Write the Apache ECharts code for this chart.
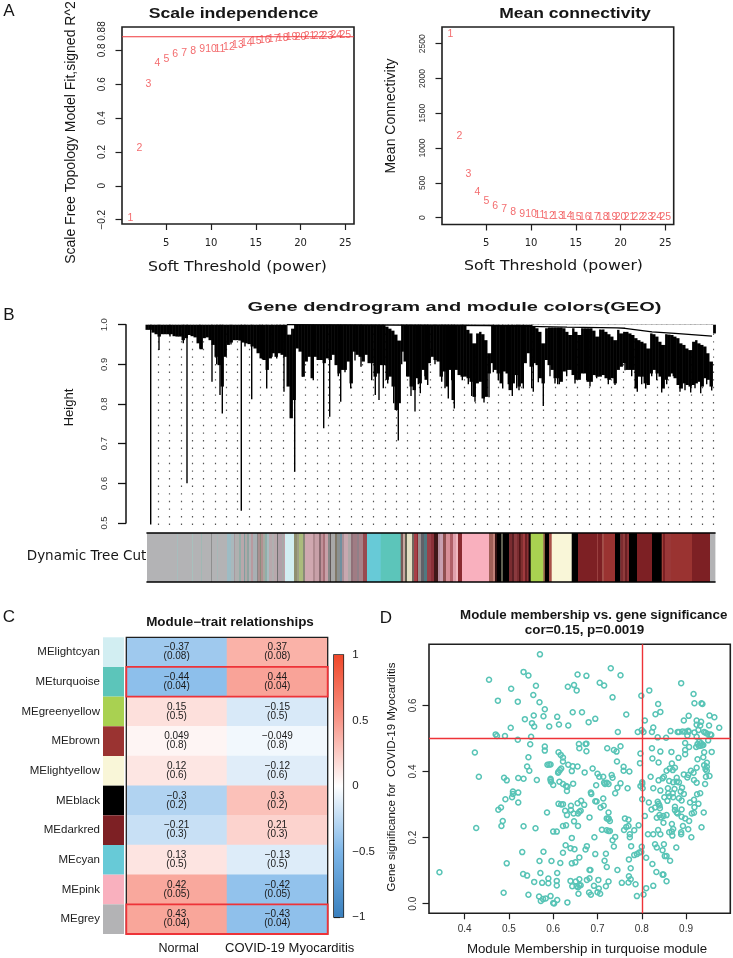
<!DOCTYPE html>
<html style="height: 100%">
<head>
<meta charset="utf-8">
<script type="text/javascript" src="https://cdn.jsdelivr.net/npm/echarts@6/dist/echarts.min.js"></script>
<script type="text/javascript">
// panel A
var powers = [1,2,3,4,5,6,7,8,9,10,11,12,13,14,15,16,17,18,19,20,21,22,23,24,25];
var scaleFit = [-0.188,0.225,0.6,0.723,0.749,0.78,0.784,0.798,0.808,0.806,0.806,0.82,0.831,0.845,0.853,0.863,0.869,0.874,0.879,0.88,0.884,0.884,0.886,0.89,0.89];
var meanConn = [2635,1169,623,374,244,163,120,86,57,48,34,26,22,19,15,14,13,12,11,10,9,8,7,6,5];
var fitCut = 0.88;
var powerTicks = [5,10,15,20,25];
var fitTicks = [-0.2,0,0.2,0.4,0.6,0.8];
var connTicks = [0,500,1000,1500,2000,2500];

// panel B: tree silhouette, one low value every 3 positions from 0
var dendroLow = [
0.987,0.987,0.98,0.976,0.97,0.976,0.976,0.976,0.976,0.971,
0.97,0.97,0.961,0.966,0.974,0.971,0.968,0.953,0.938,0.966,
0.968,0.961,0.949,0.919,0.898,0.844,0.919,0.949,0.955,0.961,
0.961,0.96,0.955,0.953,0.951,0.945,0.94,0.928,0.915,0.911,
0.886,0.915,0.928,0.919,0.928,0.924,0.919,0.844,0.764,0.81,
0.94,0.932,0.869,0.907,0.919,0.865,0.919,0.911,0.911,0.903,
0.915,0.911,0.924,
0.898,0.877,0.886,0.886,0.907,0.852,0.932,0.924,0.919,0.907,
0.924,0.903,0.903,0.869,0.877,0.898,0.898,0.861,0.869,0.844,
0.785,0.802,0.932,0.907,0.869,0.844,0.835,0.865,0.852,0.886,
0.861,0.903,0.919,0.911,0.907,0.869,0.882,0.844,0.886,0.81,
0.886,0.873,0.869,0.869,0.865,0.856,0.818,0.852,0.856,0.814,
0.818,0.877,0.903,0.886,0.877,0.852,0.882,0.877,0.835,0.852,
0.873,0.844,0.852,0.903,
0.928,0.894,0.903,0.898,0.865,0.852,0.911,0.898,0.886,0.865,
0.865,0.856,0.882,0.886,0.886,0.873,0.861,0.861,0.877,0.877,
0.856,0.856,0.873,0.869,0.869,0.873,0.865,0.861,0.865,0.852,
0.886,0.894,0.903,0.886,0.886,0.886,0.839,0.869,0.869,0.852,
0.848,0.877,0.886,0.877,0.869,0.839,0.861,0.869,0.877,0.865,
0.848,0.839,0.852,0.848,0.844,0.848,0.852,0.856,0.844,0.865,
0.861,0.844,0.978];
// long single branches
var spikePos = [3.7,12,23,36.3,40,53,65,69.7,73,75.3,84,94.3,98,104.7,113,115.3,119.7,125,129.7,133,137,147.7,155.7,166.3,176.7,182.7,
191.3,193.7,198,203.7,208,214,224.7,228.3,232,236.3,240.7,246.7,251.3,254.7,259.7,264,268,271.3,273.3,278,280.7,288,294.7,298,301.3,304.7,307.3,315.3,321.3,324.7,328,337,342,346.3,351.3,355.7,361.3,365.3,369.7,372,376.3,
384.7,386.3,391.3,396.3,403,408,410.7,412.3,419.7,428,433,439.7,443,449.7,461.3,468,478,484.7,490.3,494.7,498.7,504.7,509.7,514.7,519.7,526.3,533,538,543.7,548,553.7,559.7,564.7];
var spikeLow = [0.496,0.936,0.97,0.953,0.6,0.94,0.856,0.9,0.823,0.776,0.95,0.531,0.945,0.812,0.93,0.913,0.839,0.919,0.915,0.93,0.831,0.629,0.869,0.86,0.739,0.768,
0.87,0.806,0.88,0.839,0.91,0.894,0.86,0.823,0.81,0.84,0.852,0.802,0.708,0.9,0.87,0.82,0.781,0.85,0.827,0.87,0.848,0.9,0.856,0.84,0.814,0.86,0.789,0.86,0.85,0.82,0.806,0.804,0.817,0.88,0.86,0.839,0.85,0.82,0.84,0.835,0.839,
0.84,0.831,0.855,0.795,0.87,0.852,0.85,0.85,0.87,0.852,0.87,0.86,0.844,0.865,0.85,0.848,0.885,0.87,0.831,0.85,0.839,0.87,0.86,0.829,0.85,0.87,0.831,0.835,0.829,0.84,0.827,0.85,0.834];
// white wedges under the top branches
var gapPos = [142,145,240,243,246,249,252,321,324,327,330,333,336,339,342,387,390,393,396,399,402,405,408,411,414,417,420,423,426,429,432,435,438,441,444,447,450,453,456,459,462,465,468,471,474,477,480,483,486,489,492,495,498,501,504,507,510,513,516,519,522,525,528,531,534,537,540,543,546,549,552,555,558,561,564];
var gapTop = [0.975,0.99,0.995,0.99,0.985,0.975,0.96,0.987,0.978,0.953,0.978,0.982,0.976,0.961,0.928,0.995,0.991,0.982,0.953,0.991,0.993,0.993,0.993,0.993,0.993,0.991,0.982,0.974,0.991,0.982,0.974,0.991,0.991,0.991,0.991,0.985,0.97,0.988,0.988,0.982,0.976,0.97,0.961,0.987,0.978,0.982,0.982,0.978,0.974,0.966,0.961,0.957,0.953,0.94,0.978,0.976,0.97,0.957,0.949,0.976,0.975,0.974,0.97,0.966,0.953,0.949,0.94,0.936,0.957,0.961,0.953,0.949,0.945,0.928,0.907];
var linkPos = [140,340,380,420,470,478,505,528,565];
var linkTop = [1,0.998,0.996,0.994,0.992,0.991,0.982,0.978,0.971];

// module colour strip
var G = '#B3B3B5';
var stripEnds = [
30,31,45,46,54,55,64,65,70,71,
80,84,87,88,92,94,97,98,100,102,
104,106,110,111,113,114,116,118,120,122,
125,127,130,131,135,137,138,147,150,152,
156,158,163,166,168,172,174,176,178,181,
183,184,188,190,193,195,197,201,204,206,
210,212,216,220,233.7,253.7,256,258,260,265,
267,270,271,274,277,280,284,287,291,293,
296,299,303,306,309,311,315,342,346,348,
350,354,356,362,365,367,370,372,373.6,376,
378,380,381.6,383.7,396.3,398,402,404.7,424.7,431,
450,451,455,456.3,468,473.3,476,478,480,482,
490,505,514.7,516,518,524,545,563,568];
var stripColors = [
G,'#A8BCBC',G,'#A8C0BC',G,'#A0B8B4',G,'#8F8F8F',G,'#A8B8B8',
G,'#9DBCC4','#A9B8BC','#A89AA0','#B0B0B0','#94AEA8','#B8A8AC','#7F9FA0','#B0A8A8','#8FA4A0',
'#B0B0B4','#B89AA0','#A8B0B4','#888888','#A89090','#8C8C7C','#B09090','#A8A8A0','#8FAFA8','#A8BCC0',
'#B8A8AC','#B0B0B0','#B8A8AC','#707070','#B0A0A8','#A8A8A8','#C0A0A8','#D2EEF2','#8F8F70','#9E9E86',
'#ABBB7C','#8A8A78','#CFA8B0','#D0A8B0','#B08A90','#C8A0A8','#8A6A70','#C09098','#A87078','#C8A0A8',
'#888888','#605858','#A8A8A8','#807868','#8A9090','#7090A0','#A89098','#C8A8B0','#B0A8A8','#907078',
'#A07C84','#908088','#A88088','#984A50','#67CAD7','#5CC5BA','#7A5A58','#C8A8A0','#606050','#E4E0C4',
'#706860','#A84048','#8A2A30','#989090','#606068','#507880','#9A4048','#8A3038','#401818','#B890A0',
'#C8A0B0','#905050','#D89098','#B06068','#E0A0AC','#F0B8C0','#8A2A30','#F9B0BE','#A06058','#C08078',
'#301010','#000000','#606050','#000000','#7A2C30','#5A2024','#8A3A3E','#7A2C30','#501416','#803030',
'#A03A3E','#6A2024','#8A3034','#100808','#A9D151','#8A5A40','#000000','#A85048','#F9F6D8','#000000',
'#7D2024','#9A4040','#7D2024','#A05048','#9A3331','#000000','#7D2C30','#903C3C','#6A2024','#8A3034',
'#000000','#7D2024','#000000','#A04038','#7D2024','#9A3838','#9A3331','#7D2024','#B3B3B5'];

// panel C
var moduleNames = ['MElightcyan','MEturquoise','MEgreenyellow','MEbrown','MElightyellow','MEblack','MEdarkred','MEcyan','MEpink','MEgrey'];
var moduleColors = ['#D2EEF2','#5CC5BA','#A9D151','#9A3331','#F9F6D8','#000000','#7D2024','#67CAD7','#F9B0BE','#B3B3B5'];
var traits = ['Normal','COVID-19 Myocarditis'];
var corNormal = [-0.37,-0.44,0.15,0.049,0.12,-0.3,-0.21,0.13,0.42,0.43];
var corCovid = [0.37,0.44,-0.15,-0.049,-0.12,0.3,0.21,-0.13,-0.42,-0.43];
var pValues = ['0.08','0.04','0.5','0.8','0.6','0.2','0.3','0.5','0.05','0.04'];
var boxedRows = [1,9];
var heatColors = ['#3A80BE','#7DB6E8','#FFFFFF','#F8978A','#F0482A'];

// panel D
var membership = [
[0.343,0.095],[0.432,0.384],[0.423,0.457],[0.426,0.229],[0.455,0.677],[0.475,0.614],[0.47,0.512],[0.473,0.507],[0.491,0.507],[0.505,0.65],
[0.504,0.532],[0.52,0.611],[0.52,0.496],[0.533,0.701],[0.544,0.69],[0.555,0.631],[0.561,0.659],[0.569,0.609],[0.57,0.754],[0.581,0.588],
[0.578,0.567],[0.556,0.569],[0.536,0.558],[0.552,0.546],[0.557,0.536],[0.591,0.536],[0.55,0.505],[0.548,0.482],[0.581,0.475],[0.581,0.463],
[0.544,0.443],[0.541,0.415],[0.546,0.402],[0.521,0.38],[0.533,0.378],[0.489,0.381],[0.495,0.373],[0.563,0.374],[0.509,0.339],[0.509,0.332],
[0.507,0.322],[0.521,0.336],[0.492,0.316],[0.521,0.306],[0.482,0.291],[0.476,0.284],[0.486,0.25],[0.483,0.235],[0.533,0.234],[0.56,0.228],
[0.586,0.276],[0.6,0.218],[0.608,0.218],[0.53,0.156],[0.495,0.122],[0.532,0.09],[0.541,0.085],[0.488,0.033],[0.544,0.027],[0.557,0.066],
[0.571,0.093],[0.569,0.129],[0.578,0.157],[0.596,0.129],[0.575,0.063],[0.589,0.076],[0.589,0.062],[0.609,0.093],[0.608,0.069],[0.608,0.055],
[0.568,0.022],[0.572,0.008],[0.577,0.014],[0.583,0.016],[0.594,0.023],[0.609,0.011],[0.6,0.002],[0.602,0.001],[0.632,0.004],[0.616,0.123],
[0.622,0.154],[0.628,0.177],[0.639,0.168],[0.648,0.165],[0.642,0.199],[0.642,0.122],[0.65,0.125],[0.659,0.14],[0.639,0.069],[0.643,0.053],
[0.651,0.067],[0.653,0.053],[0.656,0.05],[0.659,0.056],[0.659,0.074],[0.662,0.056],[0.657,0.03],[0.676,0.072],[0.682,0.077],[0.682,0.102],
[0.684,0.102],[0.673,0.164],[0.676,0.174],[0.692,0.054],[0.702,0.072],[0.703,0.046],[0.7,0.035],[0.706,0.03],[0.681,0.034],[0.685,0.027],
[0.695,0.15],[0.693,0.201],[0.71,0.224],[0.716,0.13],[0.721,0.111],[0.719,0.151],[0.719,0.053],[0.725,0.067],[0.745,0.102],[0.755,0.063],
[0.77,0.064],[0.771,0.083],[0.775,0.074],[0.786,0.059],[0.789,0.023],[0.804,0.028],[0.81,0.047],[0.826,0.054],[0.833,0.096],[0.847,0.088],
[0.849,0.088],[0.856,0.068],[0.824,0.12],[0.81,0.139],[0.8,0.172],[0.794,0.155],[0.799,0.156],[0.789,0.15],[0.783,0.147],[0.771,0.134],
[0.775,0.107],[0.776,0.174],[0.74,0.202],[0.737,0.173],[0.734,0.192],[0.721,0.222],[0.725,0.22],[0.728,0.22],[0.721,0.258],[0.725,0.258],
[0.725,0.256],[0.728,0.25],[0.725,0.276],[0.707,0.291],[0.714,0.296],[0.713,0.318],[0.698,0.309],[0.695,0.31],[0.685,0.336],[0.686,0.332],
[0.682,0.261],[0.67,0.299],[0.663,0.311],[0.655,0.304],[0.659,0.278],[0.662,0.281],[0.656,0.273],[0.64,0.296],[0.64,0.283],[0.646,0.273],
[0.647,0.249],[0.656,0.235],[0.622,0.235],[0.629,0.237],[0.627,0.281],[0.631,0.268],[0.612,0.302],[0.618,0.3],[0.622,0.301],[0.631,0.341],
[0.629,0.356],[0.622,0.362],[0.614,0.369],[0.632,0.354],[0.645,0.363],[0.6,0.359],[0.594,0.378],[0.595,0.369],[0.594,0.374],[0.612,0.399],
[0.615,0.404],[0.618,0.409],[0.611,0.396],[0.642,0.401],[0.587,0.42],[0.591,0.421],[0.594,0.421],[0.634,0.42],[0.644,0.416],[0.655,0.415],
[0.622,0.43],[0.622,0.442],[0.617,0.45],[0.612,0.458],[0.671,0.397],[0.689,0.409],[0.7,0.393],[0.704,0.384],[0.713,0.384],[0.715,0.366],
[0.717,0.362],[0.721,0.366],[0.725,0.362],[0.697,0.358],[0.732,0.389],[0.734,0.381],[0.752,0.364],[0.745,0.351],[0.74,0.334],[0.768,0.349],
[0.759,0.402],[0.759,0.414],[0.772,0.4],[0.744,0.43],[0.752,0.476],[0.737,0.465],[0.743,0.46],[0.722,0.47],[0.675,0.461],[0.673,0.483],
[0.658,0.483],[0.659,0.47],[0.675,0.484],[0.746,0.519],[0.644,0.579],[0.665,0.579],[0.68,0.549],[0.695,0.559],[0.609,0.565],[0.613,0.542],
[0.634,0.539],[0.633,0.656],[0.647,0.661],[0.653,0.645],[0.655,0.693],[0.675,0.689],[0.705,0.668],[0.715,0.66],[0.73,0.712],[0.752,0.691],
[0.734,0.624],[0.765,0.572],[0.799,0.629],[0.817,0.645],[0.837,0.604],[0.807,0.554],[0.831,0.573],[0.842,0.58],[0.826,0.533],[0.823,0.519],
[0.791,0.519],[0.8,0.525],[0.804,0.519],[0.836,0.503],[0.855,0.502],[0.865,0.522],[0.881,0.519],[0.884,0.519],[0.892,0.521],[0.898,0.52],
[0.905,0.523],[0.906,0.52],[0.889,0.667],[0.917,0.634],[0.919,0.606],[0.935,0.606],[0.937,0.604],[0.906,0.568],[0.895,0.554],[0.924,0.554],
[0.934,0.55],[0.924,0.541],[0.932,0.539],[0.953,0.569],[0.964,0.564],[0.952,0.539],[0.975,0.532],[0.928,0.525],[0.919,0.518],[0.941,0.519],
[0.944,0.517],[0.948,0.514],[0.955,0.512],[0.957,0.51],[0.924,0.505],[0.903,0.509],[0.95,0.494],[0.93,0.49],[0.926,0.483],[0.934,0.485],
[0.939,0.48],[0.929,0.477],[0.933,0.478],[0.937,0.479],[0.898,0.486],[0.907,0.474],[0.923,0.474],[0.958,0.459],[0.941,0.458],[0.939,0.443],
[0.898,0.465],[0.898,0.452],[0.883,0.441],[0.926,0.437],[0.947,0.426],[0.941,0.419],[0.947,0.414],[0.944,0.407],[0.947,0.402],[0.924,0.411],
[0.911,0.402],[0.917,0.396],[0.895,0.391],[0.905,0.389],[0.903,0.382],[0.918,0.374],[0.924,0.366],[0.943,0.362],[0.945,0.384],[0.953,0.386],
[0.891,0.351],[0.888,0.339],[0.895,0.332],[0.925,0.331],[0.932,0.334],[0.884,0.319],[0.89,0.312],[0.909,0.306],[0.918,0.314],[0.928,0.302],
[0.919,0.292],[0.913,0.273],[0.918,0.275],[0.94,0.276],[0.89,0.285],[0.875,0.293],[0.875,0.283],[0.879,0.276],[0.881,0.273],[0.89,0.263],
[0.898,0.258],[0.907,0.25],[0.893,0.235],[0.905,0.225],[0.935,0.231],[0.889,0.216],[0.889,0.21],[0.912,0.201],[0.878,0.17],[0.868,0.241],
[0.871,0.226],[0.868,0.218],[0.869,0.206],[0.862,0.216],[0.849,0.245],[0.843,0.261],[0.849,0.265],[0.856,0.268],[0.834,0.26],[0.84,0.268],
[0.807,0.265],[0.793,0.237],[0.783,0.222],[0.765,0.232],[0.77,0.235],[0.77,0.254],[0.762,0.258],[0.773,0.21],[0.773,0.201],[0.76,0.223],
[0.814,0.21],[0.826,0.21],[0.837,0.223],[0.842,0.21],[0.85,0.18],[0.852,0.144],[0.847,0.162],[0.834,0.17],[0.83,0.18],[0.856,0.144],
[0.864,0.13],[0.822,0.285],[0.83,0.291],[0.84,0.297],[0.836,0.308],[0.816,0.306],[0.841,0.289],[0.838,0.302],[0.801,0.316],[0.797,0.356],
[0.801,0.367],[0.801,0.362],[0.802,0.349],[0.796,0.425],[0.797,0.454],[0.824,0.439],[0.838,0.427],[0.842,0.46],[0.823,0.47],[0.867,0.459],
[0.82,0.384],[0.838,0.373],[0.826,0.349],[0.842,0.342],[0.847,0.379],[0.85,0.384],[0.856,0.402],[0.863,0.409],[0.868,0.424],[0.875,0.411],
[0.87,0.404],[0.862,0.371],[0.871,0.367],[0.879,0.369],[0.884,0.367],[0.879,0.381],[0.859,0.349],[0.874,0.347],[0.86,0.334],[0.87,0.334],
[0.862,0.324],[0.871,0.322],[0.851,0.322],[0.858,0.311]];
var memberCutX = 0.8;
var memberCutY = 0.5;
var memberTicksX = [0.4,0.5,0.6,0.7,0.8,0.9];
var memberTicksY = [0,0.2,0.4,0.6];

var SANS = '"Liberation Sans"';
var WIDE = '"DejaVu Sans"';
var DARK = '#1f1f1f';
var RED = '#F0383C';

function minus(v) {
    return String(v).replace('-', '\u2212');
}

// free text: titles, axis names, panel letters
function txt(str, x, y, size, o) {
    o = o || {};
    var font = (o.bold ? 'bold ' : '') + size + 'px ' + (o.family || SANS);
    return {
        type: 'text', x: x, y: y, silent: true, z: 20,
        rotation: o.rot || 0, scaleX: o.sx || 1, scaleY: o.sy || 1,
        style: {
            text: str, font: font, fill: o.color || '#161616',
            align: 'center', verticalAlign: 'middle',
            textAlign: 'center', textVerticalAlign: 'middle'
        }
    };
}

function hiddenX(grid, min, max) {
    return {type: 'value', gridIndex: grid, min: min, max: max, show: false};
}
function hiddenY(grid, min, max) {
    return {type: 'value', gridIndex: grid, min: min, max: max, show: false};
}
function tickX(grid, min, max, ticks, label) {
    return {
        type: 'value', gridIndex: grid, min: min, max: max,
        axisLine: {show: false, onZero: false}, splitLine: {show: false},
        axisTick: {length: 6, customValues: ticks, lineStyle: {color: DARK, width: 1.2}},
        axisLabel: Object.assign({customValues: ticks, color: '#222'}, label)
    };
}
function tickY(grid, min, max, ticks, labelTicks, label) {
    return {
        type: 'value', gridIndex: grid, min: min, max: max,
        axisLine: {show: false, onZero: false}, splitLine: {show: false},
        axisTick: {length: 6.5, customValues: ticks, lineStyle: {color: DARK, width: 1.2}},
        axisLabel: Object.assign({customValues: labelTicks, rotate: 90, color: '#222'}, label)
    };
}
function frame(left, top, width, height) {
    return {left: left, top: top, width: width, height: height, show: true, borderColor: DARK, borderWidth: 1.6, backgroundColor: 'transparent'};
}
function powerLabels(xs, ys) {
    return {
        type: 'scatter', symbolSize: 1, itemStyle: {color: 'transparent'},
        data: xs.map(function (p, i) { return [p, ys[i]]; }),
        label: {
            show: true, position: 'inside', color: '#F0474A', fontSize: 10.5, fontFamily: SANS,
            formatter: function (d) { return d.data[0]; }
        },
        silent: true
    };
}
function getOption() {
    var series = [];

    // A
    var fitSeries = powerLabels(powers, scaleFit);
    fitSeries.xAxisIndex = 0;
    fitSeries.yAxisIndex = 0;
    series.push(fitSeries);
    series.push({
        type: 'line', xAxisIndex: 0, yAxisIndex: 0, silent: true, symbol: 'none',
        data: [[0.05, fitCut], [25.97, fitCut]],
        itemStyle: {color: RED},
        lineStyle: {color: RED, width: 1.2}
    });
    var connSeries = powerLabels(powers, meanConn);
    connSeries.xAxisIndex = 1;
    connSeries.yAxisIndex = 1;
    series.push(connSeries);

    // B silhouette
    series.push({
        type: 'custom', xAxisIndex: 2, yAxisIndex: 2, silent: true, z: 3,
        data: dendroLow.map(function (h, i) { return [i * 3, h]; }),
        renderItem: function (params, api) {
            var p0 = api.coord([api.value(0) - 1.5, 1]);
            var p1 = api.coord([api.value(0) + 1.5, api.value(1)]);
            return {type: 'rect', shape: {x: p0[0], y: p0[1], width: p1[0] - p0[0] + 0.4, height: p1[1] - p0[1]}, style: {fill: '#000'}};
        }
    });
    series.push({
        type: 'custom', xAxisIndex: 2, yAxisIndex: 2, silent: true, z: 3,
        data: spikePos.map(function (p, i) { return [p, spikeLow[i]]; }),
        renderItem: function (params, api) {
            var p0 = api.coord([api.value(0), 1]);
            var p1 = api.coord([api.value(0), api.value(1)]);
            return {type: 'line', shape: {x1: p0[0], y1: p0[1], x2: p1[0], y2: p1[1]}, style: {stroke: '#000', lineWidth: 1.4}};
        }
    });
    series.push({
        type: 'custom', xAxisIndex: 2, yAxisIndex: 2, silent: true, z: 4,
        data: gapPos.map(function (p, i) { return [p, gapTop[i]]; }),
        renderItem: function (params, api) {
            var p0 = api.coord([api.value(0) - 1.5, 1]);
            var p1 = api.coord([api.value(0) + 1.5, api.value(1)]);
            return {type: 'rect', shape: {x: p0[0], y: p0[1], width: p1[0] - p0[0] + 0.6, height: p1[1] - p0[1]}, style: {fill: '#fff'}};
        }
    });
    series.push({
        type: 'line', xAxisIndex: 2, yAxisIndex: 2, silent: true, z: 5, symbol: 'none',
        data: linkPos.map(function (p, i) { return [p, linkTop[i]]; }),
        lineStyle: {color: '#000', width: 1.3}
    });

    // B strip
    series.push({
        type: 'custom', xAxisIndex: 4, yAxisIndex: 4, silent: true,
        data: stripEnds.map(function (e, i) { return [i ? stripEnds[i - 1] : 0, e]; }),
        renderItem: function (params, api) {
            var p0 = api.coord([api.value(0), 1]);
            var p1 = api.coord([api.value(1), 0]);
            return {type: 'rect', shape: {x: p0[0], y: p0[1], width: p1[0] - p0[0] + 0.4, height: p1[1] - p0[1]}, style: {fill: stripColors[params.dataIndex]}};
        }
    });

    // C colour column
    series.push({
        type: 'bar', xAxisIndex: 5, yAxisIndex: 5, silent: true, barWidth: '100%',
        data: moduleColors.map(function (c) { return {value: 1, itemStyle: {color: c}}; })
    });

    // C heat cells
    var cells = [];
    moduleNames.forEach(function (m, i) {
        cells.push([0, i, corNormal[i]]);
        cells.push([1, i, corCovid[i]]);
    });
    var heatIndex = series.length;
    series.push({
        type: 'heatmap', xAxisIndex: 6, yAxisIndex: 6, silent: true, data: cells,
        label: {
            show: true, color: '#1a1a1a', fontSize: 10, fontFamily: SANS, lineHeight: 9,
            formatter: function (d) { return minus(d.data[2]) + '\n(' + pValues[d.data[1]] + ')'; }
        }
    });
    series.push({
        type: 'custom', xAxisIndex: 6, yAxisIndex: 6, silent: true, z: 6,
        data: [[-1]].concat(boxedRows.map(function (r) { return [r]; })),
        renderItem: function (params, api) {
            var row = api.value(0);
            var size = api.size([1, 1]);
            var c = api.coord([0, row < 0 ? 0 : row]);
            return {
                type: 'rect',
                shape: {x: c[0] - size[0] / 2, y: c[1] - size[1] / 2, width: size[0] * 2, height: row < 0 ? size[1] * 10 : size[1]},
                style: {fill: 'none', stroke: row < 0 ? DARK : '#EE3338', lineWidth: row < 0 ? 1.3 : 1.8}
            };
        }
    });

    // C colour bar
    series.push({
        type: 'custom', xAxisIndex: 7, yAxisIndex: 7, silent: true,
        data: [[0, 1]],
        renderItem: function (params, api) {
            var p0 = api.coord([0, 1]);
            var p1 = api.coord([1, -1]);
            var stops = heatColors.slice().reverse().map(function (c, i) { return {offset: i / 4, color: c}; });
            return {
                type: 'rect', shape: {x: p0[0], y: p0[1], width: p1[0] - p0[0], height: p1[1] - p0[1]},
                style: {fill: new echarts.graphic.LinearGradient(0, 0, 0, 1, stops)}
            };
        }
    });

    // D
    series.push({
        type: 'scatter', xAxisIndex: 8, yAxisIndex: 8, silent: true, symbolSize: 5, data: membership,
        itemStyle: {color: 'transparent', borderColor: '#58C4B6', borderWidth: 1.5, opacity: 1},
        markLine: {
            silent: true, symbol: 'none', animation: false, label: {show: false},
            lineStyle: {color: '#EE3338', type: 'solid', width: 1.4},
            data: [{xAxis: memberCutX}, {yAxis: memberCutY}]
        }
    });

    var wideTick = {fontSize: 10, fontFamily: WIDE, margin: 14};

    return {
        backgroundColor: '#fff',
        animation: false,
        grid: [
            frame(122, 27, 232, 197),
            frame(442, 27, 231.7, 197.5),
            {left: 147, top: 324.7, width: 568, height: 198.3, show: false},
            {left: 147, top: 326, width: 568, height: 205, show: false},
            {left: 147, top: 533, width: 568, height: 49, show: false},
            {left: 103, top: 637.3, width: 21, height: 296.7, show: false},
            {left: 126.3, top: 637.3, width: 201.4, height: 296.7, show: false},
            frame(334, 655, 9.3, 262),
            frame(429, 644.3, 301.3, 269)
        ],
        xAxis: [
            tickX(0, 0.05, 25.97, powerTicks, wideTick),
            tickX(1, 0.05, 25.94, powerTicks, wideTick),
            hiddenX(2, 0, 568),
            {
                type: 'value', gridIndex: 3, min: 0, max: 568, interval: 11.33,
                axisLine: {show: false}, axisTick: {show: false}, axisLabel: {show: false},
                splitLine: {show: true, showMinLine: false, showMaxLine: false, lineStyle: {color: '#555', width: 1.2, type: [1.4, 6.2]}}
            },
            {
                type: 'value', gridIndex: 4, min: 0, max: 568, position: 'bottom', z: 6,
                axisLine: {show: true, onZero: false, lineStyle: {color: '#000', width: 1.6}},
                axisTick: {show: false}, axisLabel: {show: false}, splitLine: {show: false}
            },
            hiddenX(5, 0, 1),
            {type: 'category', gridIndex: 6, data: traits, show: false},
            hiddenX(7, 0, 1),
            tickX(8, 0.3194, 1.0, memberTicksX, {fontSize: 10, fontFamily: SANS, margin: 11, color: '#333'}),
            {
                type: 'value', gridIndex: 4, min: 0, max: 568, position: 'top', z: 6,
                axisLine: {show: true, onZero: false, lineStyle: {color: '#000', width: 1.6}},
                axisTick: {show: false}, axisLabel: {show: false}, splitLine: {show: false}
            }
        ],
        yAxis: [
            tickY(0, -0.2254, 0.9377, fitTicks, fitTicks.concat([0.914]), {
                fontSize: 10, fontFamily: SANS, margin: 15,
                formatter: function (v) { return v > 0.85 ? fitCut.toFixed(2) : minus(v); }
            }),
            tickY(1, -98, 2740, connTicks, connTicks, {fontSize: 8.5, fontFamily: SANS, margin: 15, color: '#333', formatter: function (v) { return String(v); }}),
            {
                type: 'value', gridIndex: 2, min: 0.5, max: 1, interval: 0.1, offset: 21,
                axisLine: {show: true, onZero: false, lineStyle: {color: '#111', width: 1.5}},
                axisTick: {length: 8, lineStyle: {color: '#111', width: 1.3}},
                splitLine: {show: false},
                axisLabel: {rotate: 90, fontSize: 9.5, fontFamily: SANS, color: '#333', margin: 17, formatter: function (v) { return v.toFixed(1); }}
            },
            hiddenY(3, 0, 1),
            hiddenY(4, 0, 1),
            {
                type: 'category', gridIndex: 5, data: moduleNames, inverse: true,
                axisLine: {show: false}, axisTick: {show: false},
                axisLabel: {fontSize: 11.5, fontFamily: SANS, color: '#222', margin: 3}
            },
            {type: 'category', gridIndex: 6, data: moduleNames, inverse: true, show: false},
            {
                type: 'value', gridIndex: 7, min: -1, max: 1, interval: 0.5, position: 'right',
                axisLine: {show: false}, splitLine: {show: false},
                axisTick: {length: 6, lineStyle: {color: DARK, width: 1.2}},
                axisLabel: {fontSize: 11.5, fontFamily: SANS, color: '#222', margin: 9, formatter: minus}
            },
            tickY(8, -0.029, 0.7844, memberTicksY, memberTicksY, {
                fontSize: 10, fontFamily: SANS, margin: 11, color: '#333',
                formatter: function (v) { return v.toFixed(1); }
            })
        ],
        visualMap: {show: false, type: 'continuous', min: -1, max: 1, dimension: 2, seriesIndex: heatIndex, inRange: {color: heatColors}},
        series: series,
        graphic: {elements: [
            txt('A', 9, 11, 17),
            txt('B', 9, 315, 17),
            txt('C', 9, 617, 17),
            txt('D', 386, 618, 17),
            txt('Scale independence', 233.5, 14, 14, {bold: true, sx: 1.26}),
            txt('Mean connectivity', 575, 14, 14, {bold: true, sx: 1.25}),
            txt('Soft Threshold (power)', 237.5, 267, 14, {family: WIDE, sx: 1.12}),
            txt('Soft Threshold (power)', 553.5, 266, 14, {family: WIDE, sx: 1.12}),
            txt('Scale Free Topology Model Fit,signed R^2', 71, 132.5, 14, {rot: Math.PI / 2}),
            txt('Mean Connectivity', 391, 116, 14, {rot: Math.PI / 2}),
            txt('Gene dendrogram and module colors(GEO)', 454.5, 307.7, 13, {bold: true, sx: 1.54}),
            txt('Height', 69, 407.5, 13, {rot: Math.PI / 2}),
            txt('Dynamic Tree Cut', 86.5, 556, 13.5, {family: WIDE}),
            txt('Module\u2212trait relationships', 230, 622.7, 12, {bold: true, sx: 1.12}),
            txt('Normal', 178.7, 949, 12.5),
            txt('COVID-19 Myocarditis', 289.7, 948, 13),
            txt('Module membership vs. gene significance', 593.7, 616, 12, {bold: true, sx: 1.11}),
            txt('cor=0.15, p=0.0019', 584.5, 630.7, 12, {bold: true, sx: 1.12}),
            txt('Module Membership in turquoise module', 587, 949, 13.3),
            txt('Gene significance for  COVID-19 Myocarditis', 391.7, 777, 11.5, {rot: Math.PI / 2})
        ]}
    };
}
</script>
</head>
<body style="height: 100%; margin: 0">
<div id="container" style="width: 733px; height: 958px"></div>
<script type="text/javascript">
var myChart = echarts.init(document.getElementById("container"));
myChart.setOption(getOption(), true);
</script>
</body>
</html>
